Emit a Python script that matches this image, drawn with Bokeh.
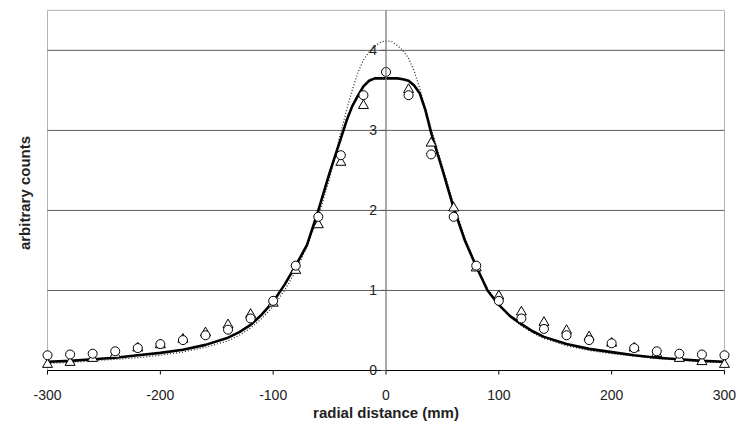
import math
from bokeh.plotting import figure
from bokeh.models import Range1d, FixedTicker, ColumnDataSource, LabelSet
from bokeh.core.properties import value
from bokeh.embed import file_html
from bokeh.resources import INLINE

# ---- data ----
x_pts = list(range(-300, 301, 20))
circles = [0.19, 0.20, 0.21, 0.24, 0.28, 0.33, 0.38, 0.44, 0.51, 0.65, 0.87,
           1.31, 1.92, 2.69, 3.44, 3.73, 3.44, 2.70, 1.92, 1.31, 0.87, 0.65,
           0.52, 0.44, 0.38, 0.34, 0.28, 0.24, 0.21, 0.20, 0.19]
triangles = [0.075, 0.10, 0.15, 0.20, 0.28, 0.32, 0.39, 0.47, 0.57, 0.70, 0.84,
             1.25, 1.82, 2.60, 3.31, float("nan"), 3.51, 2.84, 2.03, 1.28, 0.93, 0.73,
             0.60, 0.50, 0.42, 0.34, 0.28, 0.21, 0.15, 0.11, 0.075]

x_solid = [-300, -280, -260, -240, -220, -200, -180, -160, -140, -130, -120, -110,
           -100, -90, -80, -70, -60, -50, -40, -35, -30, -25, -20, -15, -10, 0,
           10, 15, 20, 25, 30, 35, 40, 50, 60, 70, 80, 90, 100, 110, 120, 130,
           140, 160, 180, 200, 220, 240, 260, 280, 300]
solid = [0.11, 0.12, 0.14, 0.16, 0.19, 0.22, 0.26, 0.32, 0.41, 0.48, 0.57, 0.70,
         0.86, 1.07, 1.31, 1.57, 2.00, 2.47, 2.90, 3.12, 3.30, 3.43, 3.55, 3.62, 3.65, 3.65,
         3.65, 3.64, 3.62, 3.56, 3.46, 3.25, 2.97, 2.51, 2.03, 1.62, 1.30, 1.00, 0.82, 0.68,
         0.58, 0.49, 0.42, 0.33, 0.27, 0.23, 0.19, 0.16, 0.14, 0.12, 0.11]

x_dotted = [-300, -280, -260, -240, -220, -200, -180, -160, -140, -130, -120, -110,
            -100, -90, -80, -70, -60, -50, -40, -35, -30, -25, -20, -15, -10, -5, 0,
            5, 10, 15, 20, 25, 30, 35, 40, 50, 60, 70, 80, 90, 100, 110, 120, 130,
            140, 160, 180, 200, 220, 240, 260, 280, 300]
dotted = [0.09, 0.10, 0.12, 0.14, 0.16, 0.19, 0.23, 0.29, 0.37, 0.44, 0.53, 0.65,
          0.80, 1.00, 1.24, 1.55, 1.92, 2.40, 2.98, 3.25, 3.50, 3.72, 3.88, 3.98, 4.05, 4.10, 4.12,
          4.11, 4.06, 4.00, 3.90, 3.74, 3.52, 3.27, 3.02, 2.55, 2.08, 1.66, 1.30, 1.02, 0.82,
          0.67, 0.56, 0.47, 0.40, 0.31, 0.25, 0.21, 0.18, 0.15, 0.13, 0.11, 0.10]

grid_y = [1, 2, 3, 4]
y_ticks = [0, 1, 2, 3, 4]
y_tick_labels = ["0", "1", "2", "3", "4"]
x_ticks = [-300, -200, -100, 0, 100, 200, 300]
x_tick_labels = ["-300", "-200", "-100", "0", "100", "200", "300"]
x_title = "radial distance (mm)"
y_title = "arbitrary counts"

X_MIN, X_MAX, Y_TOP = -300, 300, 4.5
FONT = "Liberation Sans"

p = figure(width=736, height=423,
           x_range=Range1d(-308, 308), y_range=Range1d(-0.1125, 4.548),
           output_backend="svg", toolbar_location=None,
           min_border_left=38, min_border_right=3,
           min_border_top=6, min_border_bottom=43)
p.outline_line_color = None
p.xgrid.visible = False
p.ygrid.visible = False
p.background_fill_color = "white"
p.border_fill_color = "white"

# frame border (left, right, top)
p.segment(x0=[X_MIN, X_MAX], y0=0, x1=[X_MIN, X_MAX], y1=Y_TOP,
          line_color="#b4b4b4", line_width=1)
p.segment(x0=X_MIN, y0=Y_TOP, x1=X_MAX, y1=Y_TOP, line_color="#b4b4b4", line_width=1)

# horizontal gridlines
p.segment(x0=X_MIN, x1=X_MAX, y0=grid_y, y1=grid_y, line_color="#5a5a5a", line_width=1)

# bottom axis line at y = 0 with downward ticks
p.segment(x0=X_MIN, y0=0, x1=X_MAX, y1=0, line_color="black", line_width=1)
p.ray(x=x_ticks, y=0, length=4, angle=-math.pi / 2, length_units="screen",
      line_color="black", line_width=1)

# curves
p.line(x_dotted, dotted, line_color="#222222", line_width=1.2, line_dash="1 2")
p.line(x_solid, solid, line_color="black", line_width=2.6)

# markers
p.scatter(x_pts, triangles, marker="triangle", size=10, fill_color="white",
          line_color="black", line_width=1)
p.scatter(x_pts, circles, marker="circle", size=9, fill_color="white",
          line_color="black", line_width=1)

# central vertical axis with ticks and labels
p.segment(x0=0, y0=0, x1=0, y1=Y_TOP, line_color="#7a7a7a", line_width=1.3)
p.ray(x=0, y=y_ticks, length=5, angle=math.pi, length_units="screen",
      line_color="#555555", line_width=1)
ysrc = ColumnDataSource(dict(x=[0] * len(y_ticks), y=y_ticks, t=y_tick_labels))
p.add_layout(LabelSet(x="x", y="y", text="t", source=ysrc, x_offset=-9,
                      text_align="right", text_baseline="middle",
                      text_font=value(FONT), text_font_size=value("14px"),
                      text_color="#222222"))

# bottom axis (labels only; line and ticks drawn at y = 0 above)
ax = p.xaxis[0]
ax.bounds = (X_MIN, X_MAX)
ax.ticker = FixedTicker(ticks=x_ticks)
ax.major_label_overrides = {t: l for t, l in zip(x_ticks, x_tick_labels)}
ax.minor_tick_line_color = None
ax.major_tick_line_color = None
ax.major_tick_in = 0
ax.major_tick_out = 0
ax.axis_line_color = None
ax.major_label_text_font = FONT
ax.major_label_text_font_size = "14px"
ax.major_label_text_color = "#222222"
ax.major_label_standoff = 10
ax.axis_label = x_title
ax.axis_label_text_font = FONT
ax.axis_label_text_font_style = "bold"
ax.axis_label_text_font_size = "15px"
ax.axis_label_text_color = "#222222"
ax.axis_label_standoff = 1

# left axis: title only
ya = p.yaxis[0]
ya.ticker = FixedTicker(ticks=[])
ya.axis_line_color = None
ya.major_tick_line_color = None
ya.minor_tick_line_color = None
ya.major_label_text_font_size = "0px"
ya.axis_label = y_title
ya.axis_label_text_font = FONT
ya.axis_label_text_font_style = "bold"
ya.axis_label_text_font_size = "15px"
ya.axis_label_text_color = "#222222"
ya.axis_label_standoff = 6

open("out.html", "w").write(file_html(p, INLINE))
